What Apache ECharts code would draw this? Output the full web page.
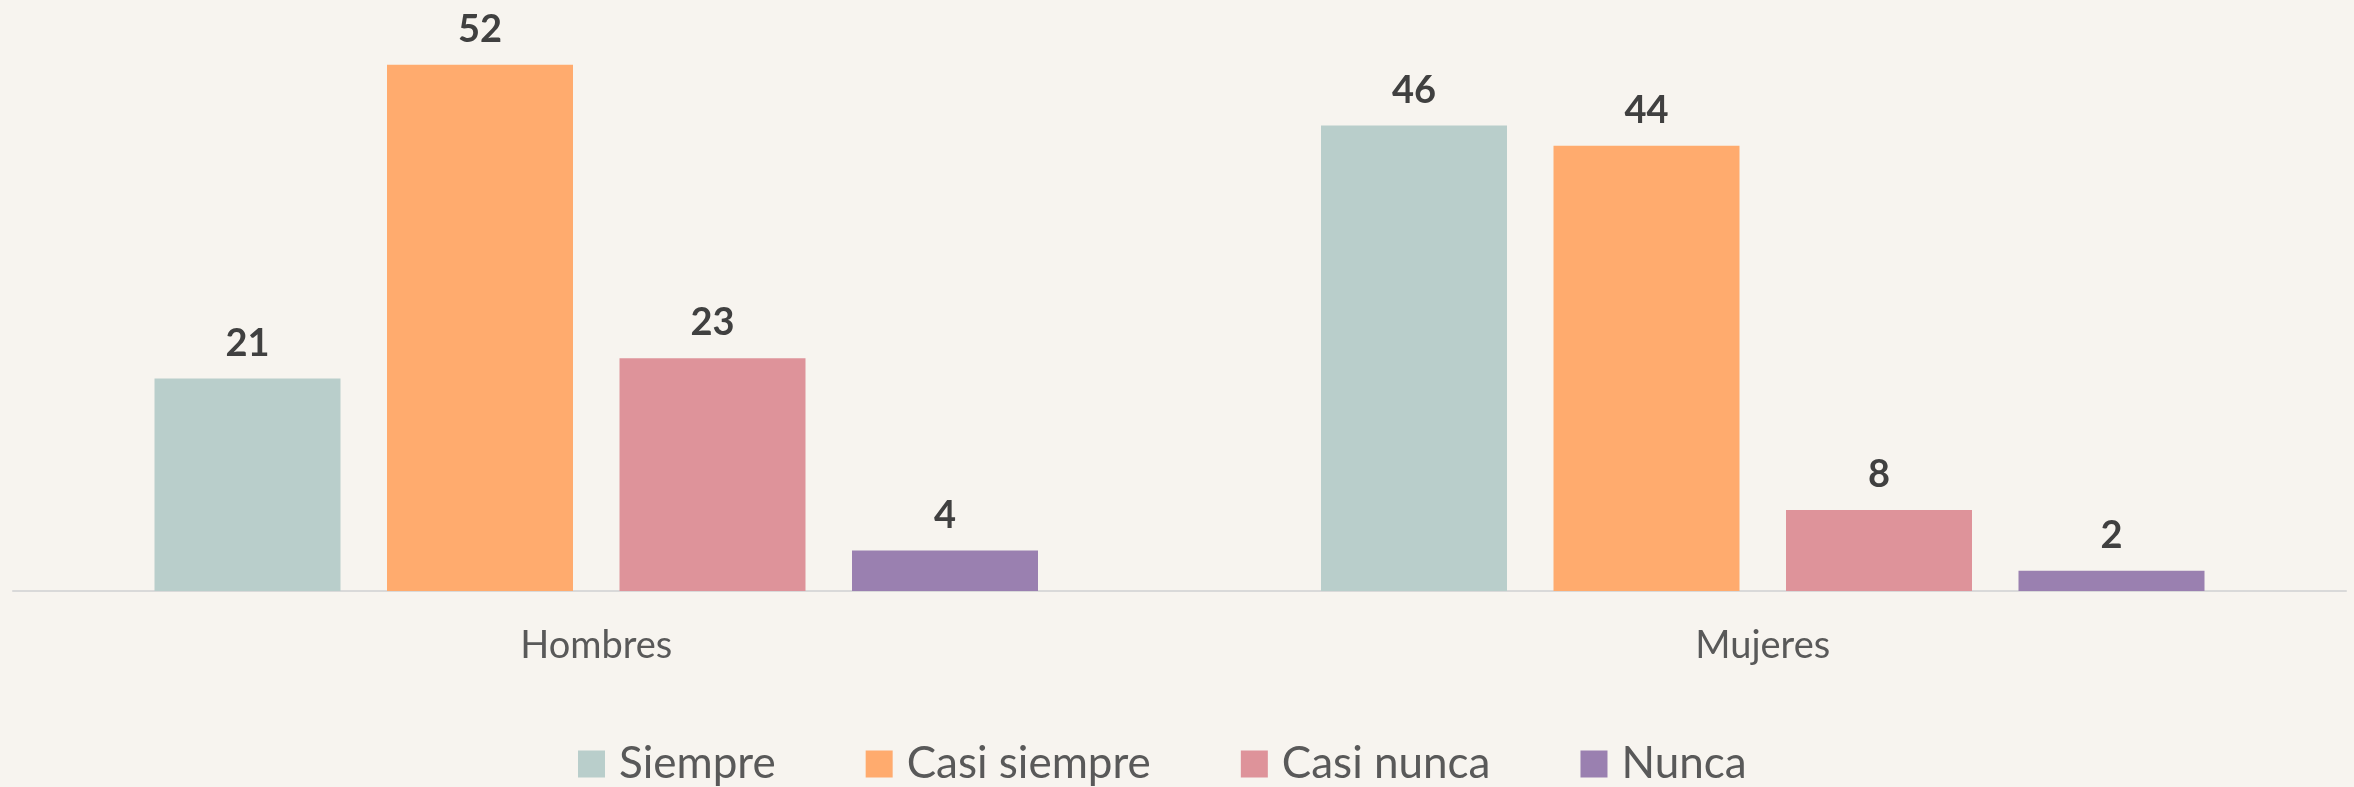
<!DOCTYPE html>
<html>
<head>
<meta charset="utf-8">
<script src="https://cdn.jsdelivr.net/npm/echarts@6/dist/echarts.min.js"></script>
<style>
html,body{margin:0;padding:0;background:#f7f4ef;}
#chart{width:2354px;height:787px;}
</style>
</head>
<body>
<div id="chart"></div>
<script>
//分类
var categories = ['Hombres', 'Mujeres'];
//系列名称
var seriesNames = ['Siempre', 'Casi siempre', 'Casi nunca', 'Nunca'];
//各系列数值
var siempre = [21, 46];
var casiSiempre = [52, 44];
var casiNunca = [23, 8];
var nunca = [4, 2];
var colors = ['#b9cecb', '#ffab6e', '#de939a', '#9a80b0'];

function makeSeries(name, data, idx) {
    return {
        name: name,
        type: 'bar',
        barWidth: 186,
        barGap: '25%',
        itemStyle: {color: colors[idx]},
        label: {
            show: true,
            position: 'top',
            distance: 16,
            color: '#404040',
            fontFamily: 'Lato',
            fontWeight: 'bold',
            fontSize: 38
        },
        data: data
    };
}

var chart = echarts.init(document.getElementById('chart'));
var option = {
    backgroundColor: '#f7f4ef',
    animation: false,
    legend: {
        top: 737,
        left: 573,
        itemWidth: 27,
        itemHeight: 27,
        itemGap: 90,
        icon: 'rect',
        textStyle: {
            fontFamily: 'Lato',
            fontSize: 44,
            color: '#595959',
            padding: [0, 0, 0, 9]
        },
        data: seriesNames
    },
    grid: {
        left: 13,
        right: 8,
        top: 4,
        bottom: 196,
        containLabel: false
    },
    xAxis: {
        type: 'category',
        data: categories,
        axisTick: {show: false},
        axisLine: {lineStyle: {color: '#d9d9d9', width: 2}},
        axisLabel: {
            margin: 36,
            fontFamily: 'Lato',
            fontSize: 38,
            color: '#595959'
        }
    },
    yAxis: {
        type: 'value',
        min: 0,
        max: 58,
        show: false,
        splitLine: {show: false}
    },
    series: [
        makeSeries(seriesNames[0], siempre, 0),
        makeSeries(seriesNames[1], casiSiempre, 1),
        makeSeries(seriesNames[2], casiNunca, 2),
        makeSeries(seriesNames[3], nunca, 3)
    ]
};
chart.setOption(option);
</script>
</body>
</html>
